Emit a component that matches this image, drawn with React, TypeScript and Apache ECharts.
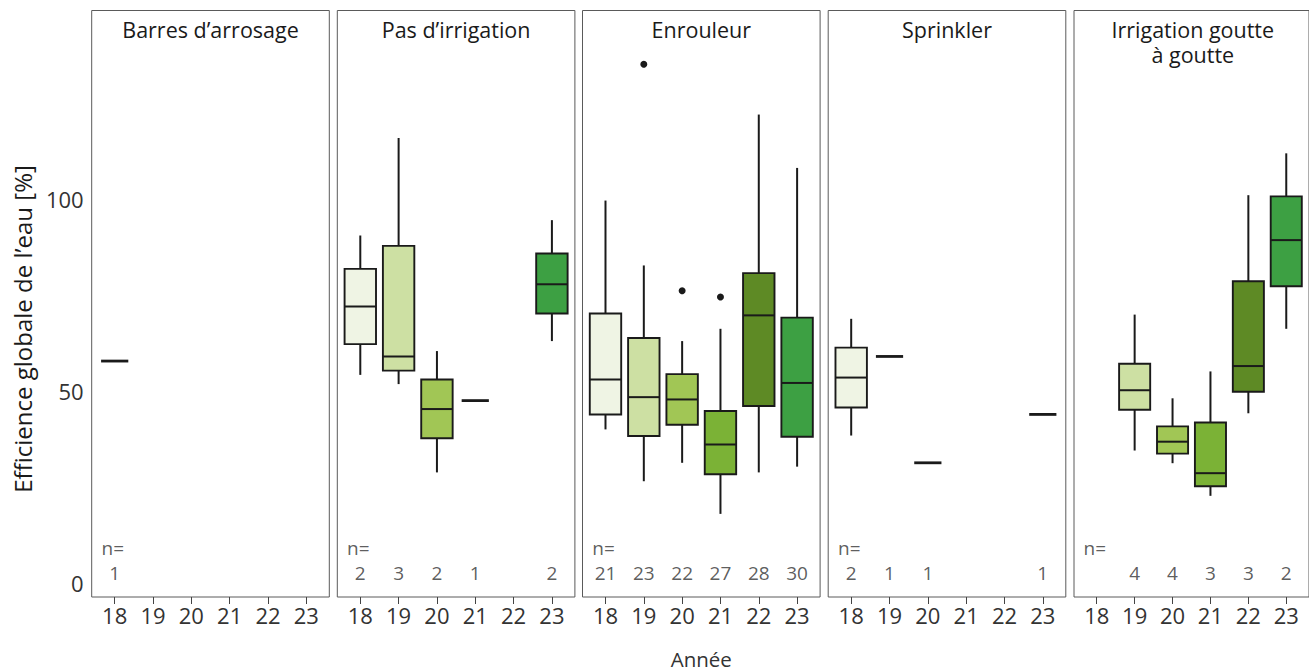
import React, { useEffect, useRef } from "react";
import * as echarts from "echarts";

// ---------- data ----------
const years = [18, 19, 20, 21, 22, 23];
const yearColors = ["#EFF4E4", "#CDE0A3", "#A1C655", "#7BB236", "#5E8A25", "#3DA043"];
// each title given as its lines
const panelTitles = [
  ["Barres d’arrosage"],
  ["Pas d’irrigation"],
  ["Enrouleur"],
  ["Sprinkler"],
  ["Irrigation goutte", "à goutte"],
];
const yTickValues = [0, 50, 100];

// [year, min, Q1, median, Q3, max]
const barresBoxes = [[18, 57.8, 57.8, 57.8, 57.8, 57.8]];
const pasBoxes = [
  [18, 54.2, 62.2, 72.0, 81.8, 90.5],
  [19, 51.8, 55.3, 59.0, 87.8, 115.9],
  [20, 28.8, 37.7, 45.3, 53.0, 60.4],
  [21, 47.5, 47.5, 47.5, 47.5, 47.5],
  [23, 63.0, 70.2, 77.8, 85.8, 94.5],
];
const enrouleurBoxes = [
  [18, 40.0, 43.9, 53.0, 70.2, 99.6],
  [19, 26.5, 38.3, 48.4, 63.8, 82.7],
  [20, 31.3, 41.2, 47.8, 54.4, 63.0],
  [21, 18.0, 28.3, 36.1, 44.8, 66.2],
  [22, 28.8, 46.1, 69.7, 80.7, 122.0],
  [23, 30.3, 38.1, 52.1, 69.1, 108.1],
];
const sprinklerBoxes = [
  [18, 38.4, 45.7, 53.5, 61.3, 68.8],
  [19, 59.0, 59.0, 59.0, 59.0, 59.0],
  [20, 31.3, 31.3, 31.3, 31.3, 31.3],
  [23, 43.9, 43.9, 43.9, 43.9, 43.9],
];
const goutteBoxes = [
  [19, 34.5, 45.1, 50.2, 57.1, 69.9],
  [20, 31.2, 33.7, 36.8, 40.8, 48.1],
  [21, 22.7, 25.2, 28.6, 41.8, 55.1],
  [22, 44.2, 49.8, 56.5, 78.6, 101.0],
  [23, 66.2, 77.3, 89.3, 100.7, 111.9],
];

// outliers [year, value]
const barresOutliers: number[][] = [];
const pasOutliers: number[][] = [];
const enrouleurOutliers = [
  [19, 135.1],
  [20, 76.1],
  [21, 74.5],
];
const sprinklerOutliers: number[][] = [];
const goutteOutliers: number[][] = [];

// sample sizes per year (null = no data)
const barresN = [1, null, null, null, null, null];
const pasN = [2, 3, 2, 1, null, 2];
const enrouleurN = [21, 23, 22, 27, 28, 30];
const sprinklerN = [2, 1, 1, null, null, 1];
const goutteN = [null, 4, 4, 3, 3, 2];

const panelBoxes = [barresBoxes, pasBoxes, enrouleurBoxes, sprinklerBoxes, goutteBoxes];
const panelOutliers = [barresOutliers, pasOutliers, enrouleurOutliers, sprinklerOutliers, goutteOutliers];
const panelN = [barresN, pasN, enrouleurN, sprinklerN, goutteN];

// ---------- layout ----------
const FONT = "'Open Sans', 'Noto Sans', sans-serif";
const panelLefts = [91.7, 337.3, 582.5, 828.2, 1074];
const panelWidth = 237.6;
const panelTop = 10.5;
const panelHeight = 586.5;
const yMin = -3.65;
const yMax = 149.1;
const xMin = 17.4;
const xMax = 23.6;
const countLabelY = 2.6;
const nLabelY = 9.1;
const titleLineY = [29.5, 54.5];

const INK = "#1a1a1a";

function renderBox(params: any, api: any) {
  const x = api.value(0);
  const vmin = api.value(1);
  const q1 = api.value(2);
  const med = api.value(3);
  const q3 = api.value(4);
  const vmax = api.value(5);
  const unit = api.size([1, 0])[0];
  const cx = api.coord([x, med])[0];
  const yMinP = api.coord([x, vmin])[1];
  const yQ1 = api.coord([x, q1])[1];
  const yMed = api.coord([x, med])[1];
  const yQ3 = api.coord([x, q3])[1];
  const yMaxP = api.coord([x, vmax])[1];
  const color = yearColors[years.indexOf(x)];
  if (q1 === q3 && vmin === vmax) {
    const hw = unit * 0.355;
    return {
      type: "line",
      shape: { x1: cx - hw, y1: yMed, x2: cx + hw, y2: yMed },
      style: { stroke: INK, lineWidth: 2.8 },
    };
  }
  const hw = unit * 0.41;
  return {
    type: "group",
    children: [
      { type: "line", shape: { x1: cx, y1: yQ3, x2: cx, y2: yMaxP }, style: { stroke: INK, lineWidth: 2 } },
      { type: "line", shape: { x1: cx, y1: yQ1, x2: cx, y2: yMinP }, style: { stroke: INK, lineWidth: 2 } },
      {
        type: "rect",
        shape: { x: cx - hw, y: yQ3, width: hw * 2, height: yQ1 - yQ3 },
        style: { fill: color, stroke: INK, lineWidth: 1.9 },
      },
      { type: "line", shape: { x1: cx - hw, y1: yMed, x2: cx + hw, y2: yMed }, style: { stroke: INK, lineWidth: 2 } },
    ],
  };
}

function buildOption() {
  const grid: any[] = [];
  const xAxis: any[] = [];
  const yAxis: any[] = [];
  const series: any[] = [];
  const graphic: any[] = [];

  panelLefts.forEach((left, i) => {
    grid.push({
      left,
      top: panelTop,
      width: panelWidth,
      height: panelHeight,
      show: true,
      borderColor: "#5a5a5a",
      borderWidth: 1,
      backgroundColor: "transparent",
      containLabel: false,
    });
    xAxis.push({
      type: "value",
      gridIndex: i,
      position: "bottom",
      min: xMin,
      max: xMax,
      axisLine: { show: false, onZero: false },
      splitLine: { show: false },
      axisTick: {
        show: true,
        length: 7,
        lineStyle: { color: "#444", width: 1 },
        customValues: years,
      },
      axisLabel: {
        show: true,
        customValues: years,
        fontSize: 22,
        fontFamily: FONT,
        color: "#333",
        margin: 7,
        formatter: (v: number) => String(v),
      },
    });
    yAxis.push({
      type: "value",
      gridIndex: i,
      position: "left",
      min: yMin,
      max: yMax,
      axisLine: { show: false, onZero: false },
      axisTick: { show: false },
      splitLine: { show: false },
      axisLabel: {
        show: i === 0,
        customValues: yTickValues,
        fontSize: 22,
        fontFamily: FONT,
        color: "#333",
        margin: 8,
      },
    });

    series.push({
      type: "custom",
      xAxisIndex: i,
      yAxisIndex: i,
      renderItem: renderBox,
      data: panelBoxes[i],
      encode: { x: 0, y: [1, 2, 3, 4, 5] },
      clip: false,
    });
    series.push({
      type: "scatter",
      xAxisIndex: i,
      yAxisIndex: i,
      data: panelOutliers[i],
      symbol: "circle",
      symbolSize: 7,
      itemStyle: { color: INK, opacity: 1 },
    });
    const nData: any[] = [];
    panelN[i].forEach((n, k) => {
      if (n !== null) nData.push([years[k], countLabelY, n]);
    });
    series.push({
      type: "scatter",
      xAxisIndex: i,
      yAxisIndex: i,
      data: nData,
      symbolSize: 0,
      silent: true,
      label: {
        show: true,
        position: "inside",
        formatter: (p: any) => String(p.value[2]),
        fontSize: 19,
        fontFamily: FONT,
        color: "#333",
      },
    });
    series.push({
      type: "scatter",
      xAxisIndex: i,
      yAxisIndex: i,
      data: [[years[0] - 0.05, nLabelY]],
      symbolSize: 0,
      silent: true,
      label: {
        show: true,
        position: "inside",
        formatter: "n=",
        fontSize: 19,
        fontFamily: FONT,
        color: "#333",
      },
    });

    panelTitles[i].forEach((line, k) => {
      graphic.push({
        type: "text",
        x: left + panelWidth / 2,
        y: titleLineY[k],
        style: {
          text: line,
          fontSize: 21.5,
          fontFamily: FONT,
          fill: INK,
          align: "center",
          verticalAlign: "middle",
        },
      });
    });
  });

  graphic.push({
    type: "text",
    x: 22,
    y: 329,
    rotation: Math.PI / 2,
    style: {
      text: "Efficience globale de l’eau [%]",
      fontSize: 24,
      fontFamily: FONT,
      fill: INK,
      align: "center",
      verticalAlign: "middle",
    },
  });
  graphic.push({
    type: "text",
    x: panelLefts[2] + panelWidth / 2,
    y: 659,
    style: {
      text: "Année",
      fontSize: 20.5,
      fontFamily: FONT,
      fill: "#333",
      align: "center",
      verticalAlign: "middle",
    },
  });

  return {
    animation: false,
    backgroundColor: "#ffffff",
    grid,
    xAxis,
    yAxis,
    series,
    graphic,
  };
}

export default function App() {
  const ref = useRef<HTMLDivElement>(null);
  useEffect(() => {
    if (!ref.current) return;
    const chart = echarts.init(ref.current, null, { renderer: "svg" });
    chart.setOption(buildOption() as any);
    return () => chart.dispose();
  }, []);
  return (
    <div
      ref={ref}
      style={{ position: "absolute", left: 0, top: 0, width: 1309, height: 672 }}
    />
  );
}
